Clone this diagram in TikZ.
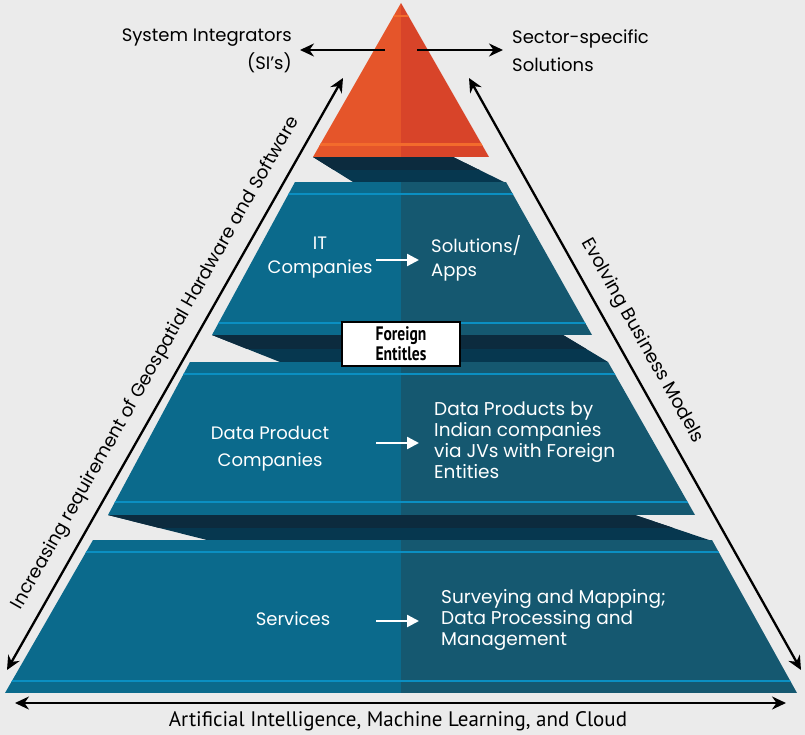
\documentclass[tikz,border=0pt]{standalone}
\usepackage{fontspec}
\setmainfont{Poppins}
\newfontfamily\narrowfont{PT Sans}
\usetikzlibrary{arrows.meta}
\definecolor{bg}{HTML}{EBEBEB}
\definecolor{orL}{HTML}{E5552A}
\definecolor{orR}{HTML}{D84429}
\definecolor{orS}{HTML}{F36B2C}
\definecolor{tealL}{HTML}{0B6A8C}
\definecolor{tealR}{HTML}{155870}
\definecolor{stripe}{HTML}{0B8FC2}
\definecolor{bandHi}{HTML}{0C2B3E}
\definecolor{bandLo}{HTML}{06374F}
\newcommand\drawtier[8]{%
 \begin{scope}
 \clip (#1,#5) -- (#2,#5) -- (#3,#6) -- (#4,#6) -- cycle;
 \fill[tealL] (0,#5) rectangle (401,#6);
 \fill[tealR] (401,#5) rectangle (805,#6);
 \fill[stripe] (0,#7-1.2) rectangle (805,#7+1.2);
 \fill[stripe] (0,#8-1.2) rectangle (805,#8+1.2);
 \end{scope}}
\newcommand\drawband[6]{%
 \fill[bandLo] (#1,#5) -- (#2,#5) -- (#3,#6) -- (#4,#6) -- cycle;
 \begin{scope}
 \clip (0,#5) rectangle (805,{(#5+#6)/2});
 \fill[bandHi] (#1,#5) -- (#2,#5) -- (#3,#6) -- (#4,#6) -- cycle;
 \end{scope}}
\begin{document}
\begin{tikzpicture}[x=1pt,y=-1pt,
  txt/.style={font=\fontsize{18}{28}\selectfont, inner sep=0pt},
  wtxt/.style={txt, text=white},
  blk/.style={line width=2.3pt, draw=black},
  onearr/.style={blk, -{Stealth[length=14pt,width=13pt]}},
  twoarr/.style={blk, {Stealth[length=14pt,width=13pt]}-{Stealth[length=14pt,width=13pt]}},
  warr/.style={line width=2.4pt, draw=white, -{Triangle[length=12pt,width=12pt]}}]
\useasboundingbox (0,0) rectangle (805,735);
\fill[bg] (0,0) rectangle (805,735);
% bands
\drawband{313}{453}{504}{353}{157}{182}
\drawband{212}{563}{608}{280}{335}{362}
\drawband{108}{635}{709}{207}{515}{540}
% top triangle
\begin{scope}
 \clip (401,3) -- (489,157) -- (313,157) -- cycle;
 \fill[orL] (0,0) rectangle (401,157);
 \fill[orR] (401,0) rectangle (805,157);
 \fill[orS] (0,15) rectangle (805,17.5);
 \fill[orS] (0,143.5) rectangle (805,146);
\end{scope}
% tiers
\drawtier{295}{506}{592}{212}{182}{335}{194}{323}
\drawtier{190}{608}{695}{108}{362}{515}{374}{502}
\drawtier{93}{712}{797}{5}{540}{693}{552}{681}
% top labels
\node[txt, align=right, anchor=east] (si) at (292,51) {System Integrators\\(SI’s)};
\node[txt, align=left, anchor=west] (ss) at (512,51) {Sector-specific\\Solutions};
\coordinate (tl1) at (385,50); \coordinate (tl2) at (300,50);
\coordinate (tr1) at (417,50); \coordinate (tr2) at (503,50);
\draw[onearr] (tl1) -- (tl2);
\draw[onearr] (tr1) -- (tr2);
% side arrows
\coordinate (la) at (7,670); \coordinate (lb) at (343,78);
\coordinate (ra) at (469,78); \coordinate (rb) at (801,670);
\draw[twoarr] (la) -- (lb);
\draw[twoarr] (ra) -- (rb);
\node[txt, font=\fontsize{18.3}{22}\selectfont, rotate=60.4] (lt) at (156,363) {Increasing requirement of Geospatial Hardware and Software};
\node[txt, font=\fontsize{18.5}{22}\selectfont, rotate=-60.7] (rt) at (642,341) {Evolving Business Models};
% bottom arrow
\coordinate (ba) at (15,703); \coordinate (bb) at (786,703);
\draw[twoarr] (ba) -- (bb);
\node[inner sep=0pt, font=\narrowfont\fontsize{21}{24}\selectfont] (bt) at (398,721) {Artificial Intelligence, Machine Learning, and Cloud};
% tier 1
\node[wtxt, align=center, font=\fontsize{18}{24}\selectfont] (it) at (320,258) {IT\\Companies};
\node[wtxt, align=left, anchor=west, font=\fontsize{18}{24}\selectfont] (sa) at (431,258) {Solutions/\\Apps};
\coordinate (a1s) at (376,260); \coordinate (a1e) at (419,260);
\draw[warr] (a1s) -- (a1e);
% foreign box
\node[draw=black, line width=2.5pt, fill=white, minimum width=118pt, minimum height=44pt, inner sep=0pt, align=center, font=\narrowfont\bfseries\fontsize{19.5}{20}\selectfont] (fe) at (401,344) {\scalebox{0.8}[1]{Foreign}\\\scalebox{0.8}[1]{Entitles}};
% tier 2
\node[wtxt, align=center, font=\fontsize{18}{27}\selectfont] (dp) at (270,449) {Data Product\\Companies};
\node[wtxt, align=left, anchor=west, font=\fontsize{18.5}{21}\selectfont] (dpi) at (434,440) {Data Products by\\Indian companies\\via JVs with Foreign\\Entities};
\coordinate (a2s) at (376,443); \coordinate (a2e) at (419,443);
\draw[warr] (a2s) -- (a2e);
% tier 3
\node[wtxt] (sv) at (293,619) {Services};
\node[wtxt, align=left, anchor=west, font=\fontsize{18.5}{21}\selectfont] (sm) at (441,620) {Surveying and Mapping;\\Data Processing and\\Management};
\coordinate (a3s) at (376,621); \coordinate (a3e) at (419,621);
\draw[warr] (a3s) -- (a3e);
\end{tikzpicture}
\end{document}
